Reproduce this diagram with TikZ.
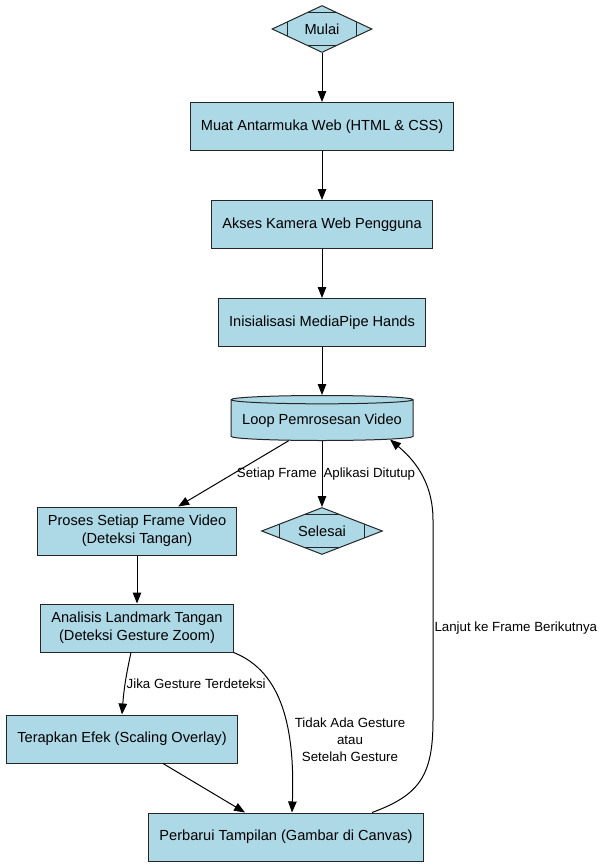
\documentclass[tikz,border=0pt]{standalone}
\usepackage{fontspec}
\setmainfont{Liberation Sans}
\usepackage{tikz}
\usetikzlibrary{positioning,arrows.meta,shapes.geometric,calc}

\definecolor{boxfill}{HTML}{ADD8E6}
\newcommand{\nodefont}{\fontsize{14.6}{18}\selectfont}
\newcommand{\lblfont}{\fontsize{13.3}{17}\selectfont}

\tikzset{
  box/.style={rectangle,draw=black!85,line width=1pt,fill=boxfill,minimum height=48pt,inner xsep=10.5pt,align=center,font=\nodefont},
  term/.style={diamond,aspect=2.5,draw=black!85,line width=1pt,fill=boxfill,inner sep=0pt,minimum width=#1,minimum height=47pt,font=\nodefont,
    path picture={
      \draw[black!85,line width=1pt]
        ($(path picture bounding box.west)!.3!(path picture bounding box.north)$) -- ($(path picture bounding box.west)!.3!(path picture bounding box.south)$)
        ($(path picture bounding box.east)!.3!(path picture bounding box.north)$) -- ($(path picture bounding box.east)!.3!(path picture bounding box.south)$)
        ($(path picture bounding box.north)!.3!(path picture bounding box.west)$) -- ($(path picture bounding box.north)!.3!(path picture bounding box.east)$)
        ($(path picture bounding box.south)!.3!(path picture bounding box.west)$) -- ($(path picture bounding box.south)!.3!(path picture bounding box.east)$);
    }},
  store/.style={cylinder,shape border rotate=90,aspect=0.05,draw=black!85,line width=1pt,fill=boxfill,minimum width=182pt,minimum height=45pt,font=\nodefont},
  flow/.style={-{Triangle[length=11pt,width=8.5pt]},line width=1pt},
  lbl/.style={font=\lblfont,inner sep=1pt,align=center}
}

\begin{document}
\begin{tikzpicture}[x=1pt,y=-1pt]
    \useasboundingbox[fill=white] (0,0) rectangle (603,867);

    \node[term=100pt] (mulai) at (322,29) {Mulai};
    \node[box,below=49pt of mulai] (muat) {Muat Antarmuka Web (HTML \& CSS)};
    \node[box,below=49pt of muat] (akses) {Akses Kamera Web Pengguna};
    \node[box,below=49pt of akses] (inis) {Inisialisasi MediaPipe Hands};
    \node[store,below=48pt of inis] (loop) {Loop Pemrosesan Video};
    \node[term=121pt,below=66pt of loop] (selesai) {Selesai};
    \node[box] (proses) at (137,531) {Proses Setiap Frame Video\\(Deteksi Tangan)};
    \node[box,below=48pt of proses] (analisis) {Analisis Landmark Tangan\\(Deteksi Gesture Zoom)};
    \node[box] (terapkan) at (122,739) {Terapkan Efek (Scaling Overlay)};
    \node[box] (perbarui) at (286,837) {Perbarui Tampilan (Gambar di Canvas)};

    \draw[flow] (mulai) -- (muat);
    \draw[flow] (muat) -- (akses);
    \draw[flow] (akses) -- (inis);
    \draw[flow] (inis) -- (loop);
    \draw[flow] (loop) -- (proses) node[lbl,pos=.5,anchor=west,xshift=2pt] {Setiap Frame};
    \draw[flow] (loop) -- (selesai) node[lbl,pos=.5,anchor=west] {Aplikasi Ditutup};
    \draw[flow] (proses) -- (analisis);
    \draw[flow] ([xshift=-6pt]analisis.south) to[bend right=4] node[lbl,anchor=west] {Jika Gesture Terdeteksi} (terapkan.north);
    \draw[flow] (analisis.south east) .. controls (283,672) and (295,730) .. node[lbl,pos=.67,anchor=west,xshift=4pt] {Tidak Ada Gesture\\atau\\Setelah Gesture} ([xshift=6pt]perbarui.north);
    \draw[flow] (terapkan) -- (perbarui);
    \draw[flow] ([xshift=86pt]perbarui.north) .. controls (420,795) and (433,775) .. (433,720)
      -- node[lbl,pos=.46,anchor=west] {Lanjut ke Frame Berikutnya} (433,520)
      .. controls (433,480) and (412,458) .. ($(loop.south)+(68,-1.5)$);

\end{tikzpicture}
\end{document}
